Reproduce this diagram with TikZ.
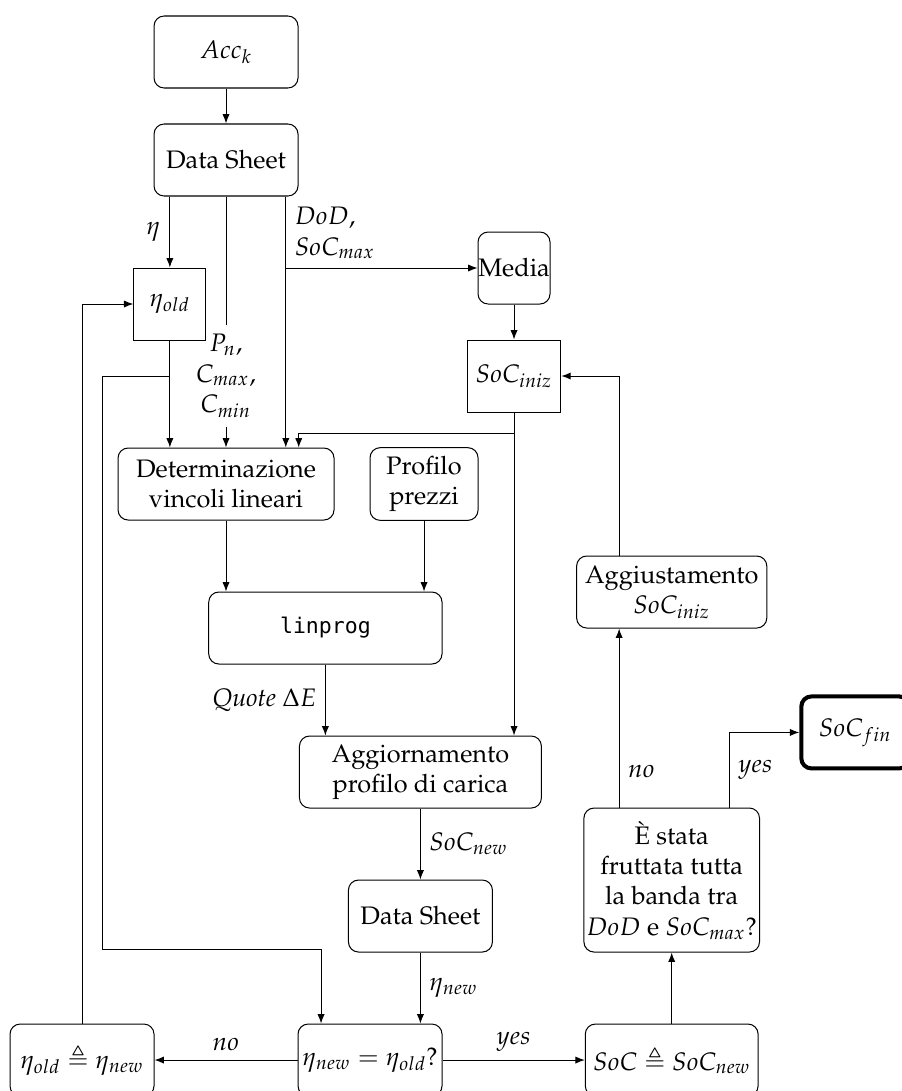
\documentclass[tikz,border=0pt]{standalone}
\usepackage{fontspec}
\newfontfamily\lpmono{DejaVu Sans Mono}[Scale=0.85]
\usepackage[T1]{fontenc}
\usepackage{mathpazo}
\usepackage{amssymb}
\usetikzlibrary{arrows.meta,positioning,calc}
\tikzset{
  >={Latex[length=1.3mm,width=1mm]},
  box/.style={draw,rounded corners=4pt,minimum height=1cm,minimum width=#1,align=center},
  box/.default=2cm,
  sq/.style={draw,minimum size=1cm},
}

\begin{document}
\begin{tikzpicture}
  \useasboundingbox (-3.139,0.722) rectangle (9.375,-14.43);
  % nodes
  \node[box] (acc) at (0,0) {$Acc_k$};
  \node[box] (sheet) at (0,-1.5) {Data Sheet};
  \node[sq] (etaold) at (-0.78,-3.5) {$\eta_{old}$};
  \node[box=1cm,inner sep=0pt] (media) at (4,-3) {Media};
  \node[sq] (socini) at (4,-4.5) {$SoC_{iniz}$};
  \node[box=3cm] (vinc) at (0,-6) {Determinazione\\vincoli lineari};
  \node[box=1.5cm] (prezzi) at (2.75,-6) {Profilo\\prezzi};
  \node[box=3.24cm] (lp) at (1.38,-8) {{\lpmono linprog}};
  \node[box=3.36cm] (aggprof) at (2.7,-10) {Aggiornamento\\profilo di carica};
  \node[box] (sheetnew) at (2.7,-12) {Data Sheet};
  \node[box,inner sep=1pt] (test) at (2,-14) {$\eta_{new}=\eta_{old}$?};
  \node[box] (etaupd) at (-2,-14) {$\eta_{old}\triangleq\eta_{new}$};
  \node[box=2.4cm,inner sep=1pt] (socupd) at (6.19,-14) {$SoC\triangleq SoC_{new}$};
  \node[box=2.4cm,minimum height=2cm,inner sep=1pt] (banda) at (6.19,-11.5)
    {\`E stata\\fruttata tutta\\la banda tra\\$DoD$ e $SoC_{max}$?};
  \node[box=2.6cm] (aggsoc) at (6.19,-7.5) {Aggiustamento\\$SoC_{iniz}$};
  \node[box=1.5cm,ultra thick] (socfin) at (8.74,-9.45) {$SoC_{fin}$};
  % labels
  \node[align=center] (pnlbl) at (0,-4.5) {$P_n$,\\$C_{max}$,\\$C_{min}$};
  % connectors
  \coordinate (dodx) at ($(sheet.south)+(0.83,0)$);
  \coordinate (inix) at ($(vinc.north)+(1.01,0)$);
  \coordinate (loopb) at (-1.72,-12.47);
  \coordinate (testin) at ($(test.north)+(-0.68,0)$);
  \coordinate (bno) at ($(banda.north)+(-0.73,0)$);
  \coordinate (byes) at ($(banda.north)+(0.8,0)$);
  \draw[->] (acc) -- (sheet);
  \draw[->] (sheet.south -| etaold) -- node[left]{$\eta$} (etaold);
  \draw (sheet) -- (pnlbl);
  \draw[->] (pnlbl) -- (vinc);
  \draw[->] (dodx) -- (dodx |- vinc.north);
  \draw[->] (dodx |- media) -- (media);
  \node[anchor=south west,align=left] (dodlbl) at (dodx |- media) {$DoD$,\\$SoC_{max}$};
  \draw[->] (media) -- (socini);
  \draw[->] (etaold) -- (etaold |- vinc.north);
  \draw[->] (etaold |- socini) -- (loopb |- socini) -- (loopb) -| (testin);
  \draw[->] (socini.south) -- ++(0,-0.29) -| (inix);
  \draw[->] (socini.south) -- (socini.south |- aggprof.north);
  \draw[->] (vinc) -- (vinc |- lp.north);
  \draw[->] (prezzi) -- (prezzi |- lp.north);
  \draw[->] (lp) -- node[left]{\textit{Quote} $\Delta E$} (lp |- aggprof.north);
  \draw[->] (aggprof) -- node[right]{$SoC_{new}$} (sheetnew);
  \draw[->] (sheetnew) -- node[right]{$\eta_{new}$} (sheetnew |- test.north);
  \draw[->] (test) -- node[above]{$no$} (etaupd);
  \draw[->] (test) -- node[above]{$yes$} (socupd);
  \draw[->] (socupd) -- (banda);
  \draw[->] (bno) -- node[right,pos=.2]{$no$} (bno |- aggsoc.south);
  \draw[->] (byes) |- node[right,pos=.25]{$yes$} (socfin);
  \draw[->] (aggsoc.north -| bno) |- (socini);
  \draw[->] (etaupd) |- (etaold);
\end{tikzpicture}
\end{document}
